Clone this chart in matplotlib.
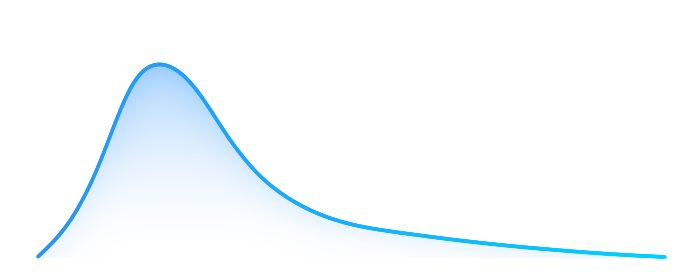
import numpy as np
import matplotlib
matplotlib.use("Agg")
import matplotlib.pyplot as plt
from matplotlib.collections import LineCollection
from matplotlib.colors import LinearSegmentedColormap, to_rgb

# Data: evenly spaced samples of the curve
x_vals = list(range(21))
y_vals = [1.3, 36.3, 97.7, 172.4, 193.2, 170.2, 124, 84.7, 59.6, 43.6, 33.7,
          27.8, 23.4, 19.3, 15.6, 12.3, 9.4, 6.8, 4.5, 2.6, 1]

line_start = "#2e93f2"
line_end = "#00d0ff"
fill_color = "#3a9bff"


def natural_spline(x, y, n=40):
    x = np.asarray(x, float); y = np.asarray(y, float)
    N = len(x)
    h = np.diff(x)
    A = np.zeros((N, N)); b = np.zeros(N)
    A[0, 0] = 1; A[-1, -1] = 1
    for i in range(1, N - 1):
        A[i, i - 1] = h[i - 1]
        A[i, i] = 2 * (h[i - 1] + h[i])
        A[i, i + 1] = h[i]
        b[i] = 6 * ((y[i + 1] - y[i]) / h[i] - (y[i] - y[i - 1]) / h[i - 1])
    M = np.linalg.solve(A, b)
    xs, ys = [], []
    for i in range(N - 1):
        t = np.linspace(x[i], x[i + 1], n, endpoint=False)
        a = x[i + 1] - t; c = t - x[i]
        yy = (M[i] * a**3 + M[i + 1] * c**3) / (6 * h[i]) \
            + (y[i] / h[i] - M[i] * h[i] / 6) * a + (y[i + 1] / h[i] - M[i + 1] * h[i] / 6) * c
        xs.append(t); ys.append(yy)
    xs.append([x[-1]]); ys.append([y[-1]])
    return np.concatenate(xs), np.concatenate(ys)


sx, sy = natural_spline(x_vals, y_vals)

fig = plt.figure(figsize=(6.84, 2.8), dpi=100)
ax = fig.add_axes([0, 0, 1, 1])
xlim = (-1.212, 20.606)
ylim = (-22, 258)
ax.set_xlim(*xlim)
ax.set_ylim(*ylim)
ax.axis("off")

# fill: vertical fade plus soft glow near the curve (computed in pixel space)
W, Hh = 684, 280
px_per_x = W / (xlim[1] - xlim[0])
px_per_y = Hh / (ylim[1] - ylim[0])
gx = np.linspace(xlim[0], xlim[1], W // 2)
gy = np.linspace(ylim[0], ylim[1], Hh // 2)
GX, GY = np.meshgrid(gx, gy)
cx = sx[::4] * px_per_x
cy = sy[::4] * px_per_y
P = np.column_stack([(GX * px_per_x).ravel(), (GY * px_per_y).ravel()])
d = np.full(P.shape[0], np.inf)
for i in range(0, len(cx), 50):
    dx = P[:, 0:1] - cx[None, i:i + 50]
    dy = P[:, 1:2] - cy[None, i:i + 50]
    d = np.minimum(d, np.sqrt(dx**2 + dy**2).min(axis=1))
d = d.reshape(GX.shape)
ymax = max(y_vals)
tv = np.clip((GY - 8) / (ymax - 8), 0, 1)
alpha = 0.40 * tv ** 1.6 + 0.13 * np.exp(-d / 14.0)
alpha = np.clip(alpha, 0, 0.5)
img_arr = np.zeros(GX.shape + (4,))
img_arr[..., :3] = to_rgb(fill_color)
img_arr[..., 3] = alpha
poly = ax.fill_between(sx, 0, sy, color="none", lw=0)
path = poly.get_paths()[0]
img = ax.imshow(img_arr, extent=[xlim[0], xlim[1], ylim[0], ylim[1]], origin="lower",
                aspect="auto", zorder=1, interpolation="bilinear")
img.set_clip_path(path, transform=ax.transData)

# gradient line
pts = np.column_stack([sx, sy]).reshape(-1, 1, 2)
segs = np.concatenate([pts[:-1], pts[1:]], axis=1)
cmap = LinearSegmentedColormap.from_list("ln", [line_start, line_end])
lc = LineCollection(segs, cmap=cmap, linewidth=2.6, capstyle="round", joinstyle="round", zorder=3)
lc.set_array((sx[:-1] - sx[0]) / (sx[-1] - sx[0]))
ax.add_collection(lc)

fig.savefig("out.png", dpi=100)
